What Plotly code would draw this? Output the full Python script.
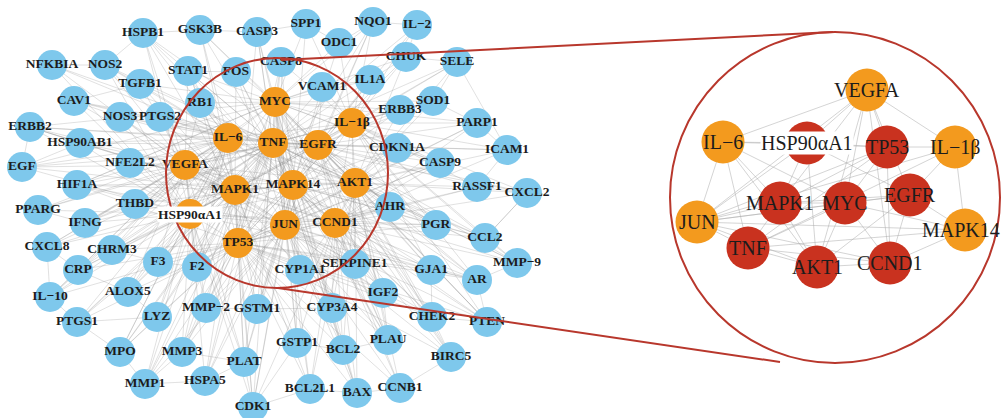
import plotly.graph_objects as go

# ---------------- Full PPI network (left) ----------------
hub_names = ["MYC", "IL-1β", "IL-6", "TNF", "EGFR", "VEGFA", "MAPK1", "MAPK14",
             "AKT1", "HSP90αA1", "JUN", "CCND1", "TP53"]
hub_x = [275, 352, 228, 273, 318, 185, 235, 293, 355, 190, 285, 335, 238]
hub_y = [102, 123, 138, 143, 145, 165, 190, 185, 183, 214, 225, 223, 243]

gene_names = ["HSPB1", "GSK3B", "CASP3", "SPP1", "NQO1", "IL-2", "ODC1", "CHUK", "SELE",
              "NFKBIA", "NOS2", "STAT1", "FOS", "CASP8", "TGFB1", "VCAM1", "IL1A", "SOD1",
              "ERBB3", "CAV1", "RB1", "NOS3", "PTGS2", "ERBB2", "HSP90AB1", "PARP1", "ICAM1",
              "CDKN1A", "CASP9", "RASSF1", "CXCL2", "EGF", "NFE2L2", "HIF1A", "THBD", "PPARG",
              "IFNG", "CXCL8", "CHRM3", "F3", "F2", "CRP", "IL-10", "ALOX5", "LYZ", "MMP-2",
              "GSTM1", "PTGS1", "MPO", "MMP3", "PLAT", "MMP1", "HSPA5", "CDK1", "GSTP1", "BCL2",
              "BCL2L1", "BAX", "CCNB1", "PLAU", "BIRC5", "CYP3A4", "IGF2", "CHEK2", "PTEN",
              "CYP1A1", "SERPINE1", "GJA1", "AR", "MMP-9", "CCL2", "PGR", "AHR"]
gene_x = [143, 200, 257, 306, 373, 417, 339, 406, 457,
          52, 105, 188, 236, 281, 140, 322, 370, 433,
          400, 74, 200, 120, 160, 30, 80, 477, 507,
          397, 440, 477, 527, 22, 130, 77, 135, 38,
          85, 47, 112, 158, 197, 78, 50, 128, 157, 206,
          257, 77, 120, 182, 244, 145, 205, 253, 297, 343,
          310, 357, 400, 388, 451, 332, 383, 432, 487,
          300, 355, 431, 477, 517, 485, 436, 390]
gene_y = [33, 30, 32, 24, 22, 25, 43, 57, 62,
          65, 65, 71, 72, 62, 84, 87, 80, 101,
          110, 101, 103, 117, 117, 127, 143, 123, 150,
          148, 163, 187, 193, 167, 163, 185, 204, 210,
          223, 247, 250, 262, 267, 270, 297, 292, 317, 308,
          309, 322, 352, 352, 362, 384, 381, 407, 343, 350,
          389, 393, 388, 340, 357, 308, 293, 317, 322,
          270, 264, 270, 280, 263, 238, 225, 207]

hub_links = {
    "MYC": ["CASP3", "SPP1", "ODC1", "CHUK", "FOS", "CASP8", "STAT1", "GSK3B", "RB1", "VCAM1",
            "IL1A", "ERBB3", "CDKN1A", "CASP9", "NFE2L2", "HIF1A", "CCNB1", "CDK1", "BCL2", "BAX",
            "BCL2L1", "PTEN", "CHEK2", "BIRC5", "NQO1", "TGFB1", "PARP1", "SOD1", "AHR", "CYP1A1",
            "GSTP1", "IGF2", "ERBB2", "EGF"],
    "TNF": ["NFKBIA", "NOS2", "STAT1", "FOS", "CASP8", "CASP3", "VCAM1", "IL1A", "ICAM1", "SELE",
            "CXCL2", "CXCL8", "CCL2", "IL-10", "IL-2", "IFNG", "CRP", "MMP-9", "MMP-2", "MMP3",
            "MMP1", "PTGS2", "PTGS1", "NOS3", "HSPB1", "SOD1", "MPO", "F3", "F2", "THBD", "PLAT",
            "PLAU", "SERPINE1", "HSPA5", "ALOX5", "LYZ", "CHRM3", "PPARG", "CAV1", "TGFB1", "BCL2",
            "BAX", "GSTM1", "CYP3A4", "AR", "PGR"],
    "IL-6": ["NFKBIA", "NOS2", "STAT1", "TGFB1", "CAV1", "ERBB2", "HSP90AB1", "EGF", "HIF1A",
             "PPARG", "IFNG", "CXCL8", "CRP", "IL-10", "PTGS1", "MPO", "MMP1", "ALOX5", "CHRM3",
             "F3", "F2", "HSPB1", "GSK3B", "NOS3", "PTGS2", "RB1", "NFE2L2", "THBD", "LYZ", "MMP3"],
    "EGFR": ["ERBB3", "ERBB2", "EGF", "CAV1", "CDKN1A", "CASP9", "RASSF1", "PARP1", "SOD1", "ICAM1",
             "CXCL2", "PGR", "AR", "GJA1", "CCL2", "MMP-9", "IGF2", "PTEN", "CHEK2", "SERPINE1",
             "AHR", "IL1A", "VCAM1", "CHUK", "SELE", "NQO1", "IL-2", "BIRC5", "PLAU", "HSP90AB1"],
    "AKT1": ["RASSF1", "CXCL2", "CASP9", "PARP1", "ICAM1", "SELE", "SOD1", "CHUK", "PTEN", "CHEK2",
             "BIRC5", "CCNB1", "BAX", "BCL2", "BCL2L1", "PLAU", "IGF2", "GJA1", "AR", "MMP-9",
             "CCL2", "PGR", "AHR", "CDKN1A", "GSK3B", "NOS3", "HSPB1", "PTGS2", "HIF1A", "CYP3A4"],
    "IL-1β": ["IL1A", "CHUK", "SELE", "ICAM1", "VCAM1", "CXCL2", "CCL2", "MMP-9", "SOD1", "PARP1",
              "NQO1", "IL-2", "ODC1", "SPP1", "CASP8", "CASP9", "RASSF1", "PGR", "AR", "GJA1",
              "ERBB3", "CDKN1A", "PTEN", "SERPINE1"],
    "VEGFA": ["NFKBIA", "NOS2", "TGFB1", "CAV1", "ERBB2", "HSP90AB1", "EGF", "HIF1A", "PPARG",
              "IFNG", "CXCL8", "CHRM3", "THBD", "NFE2L2", "NOS3", "PTGS2", "RB1", "STAT1", "HSPB1",
              "F3", "F2", "CRP", "IL-10", "ALOX5", "MMP-2", "PLAT", "SERPINE1", "MMP-9", "PLAU", "IGF2"],
    "MAPK1": ["HSPB1", "GSK3B", "STAT1", "FOS", "RB1", "TGFB1", "NOS2", "NOS3", "PTGS2", "HSP90AB1",
              "EGF", "ERBB2", "HIF1A", "IFNG", "CXCL8", "CHRM3", "CRP", "F3", "F2", "ALOX5", "LYZ",
              "MMP-2", "MMP3", "MMP1", "PTGS1", "MPO", "HSPA5", "PLAT", "CDK1", "GSTM1", "GSTP1",
              "CYP1A1", "BCL2L1"],
    "MAPK14": ["HSPB1", "GSK3B", "CASP3", "SPP1", "STAT1", "FOS", "CASP8", "ODC1", "IL1A", "VCAM1",
               "ERBB3", "CDKN1A", "NFE2L2", "THBD", "F2", "MMP-2", "GSTM1", "CYP1A1", "CYP3A4",
               "GSTP1", "SERPINE1", "IGF2", "PLAU", "BCL2", "HSPA5", "PLAT", "CDK1", "AHR", "PGR",
               "CCL2", "GJA1", "CHEK2", "PTEN"],
    "HSP90αA1": ["HSPB1", "NOS2", "NFKBIA", "CAV1", "ERBB2", "HSP90AB1", "EGF", "HIF1A", "PPARG",
                 "IFNG", "CXCL8", "CRP", "IL-10", "CHRM3", "F3", "F2", "ALOX5", "LYZ", "PTGS1",
                 "MPO", "MMP1", "MMP3", "HSPA5", "NOS3", "NFE2L2", "THBD", "AR", "PGR", "CDK1", "PLAT"],
    "JUN": ["FOS", "CASP3", "CASP8", "CASP9", "CYP1A1", "SERPINE1", "CYP3A4", "GSTM1", "GSTP1",
            "MMP-2", "MMP3", "MMP1", "F2", "PLAU", "PLAT", "BCL2", "BCL2L1", "BAX", "CCNB1", "CDK1",
            "HSPA5", "IGF2", "CHEK2", "PTEN", "BIRC5", "AHR", "GJA1", "AR", "NQO1", "NFE2L2", "HIF1A"],
    "CCND1": ["CDKN1A", "CASP9", "RASSF1", "CXCL2", "PARP1", "ICAM1", "AHR", "PGR", "CCL2", "MMP-9",
              "AR", "GJA1", "PTEN", "CHEK2", "BIRC5", "PLAU", "IGF2", "CCNB1", "BAX", "BCL2",
              "BCL2L1", "CDK1", "CYP3A4", "SERPINE1", "CYP1A1", "ERBB3", "RB1", "ERBB2", "GSTP1"],
    "TP53": ["CDKN1A", "CASP9", "CASP3", "CASP8", "PARP1", "BAX", "BCL2", "BCL2L1", "CCNB1", "CDK1",
             "CHEK2", "PTEN", "BIRC5", "MMP-2", "MMP3", "MMP1", "F2", "F3", "LYZ", "ALOX5", "CHRM3",
             "CRP", "IL-10", "PTGS1", "MPO", "HSPA5", "PLAT", "GSTM1", "GSTP1", "CYP1A1", "CYP3A4",
             "IGF2", "SERPINE1", "GJA1", "AR", "PGR", "AHR", "RB1", "NQO1", "HIF1A", "RASSF1"],
}

gene_links = [
    ("NFKBIA", "NOS2"), ("NOS2", "TGFB1"), ("CAV1", "NOS3"), ("EGF", "HSP90AB1"), ("EGF", "ERBB2"),
    ("ERBB2", "HSP90AB1"), ("PPARG", "IFNG"), ("CXCL8", "CRP"), ("CRP", "IL-10"), ("IL-10", "PTGS1"),
    ("PTGS1", "MPO"), ("MPO", "MMP1"), ("MMP1", "HSPA5"), ("MMP3", "MMP1"), ("MMP3", "MMP-2"),
    ("LYZ", "MPO"), ("PLAT", "CDK1"), ("CDK1", "BCL2L1"), ("BCL2L1", "BAX"), ("BAX", "CCNB1"),
    ("CCNB1", "BIRC5"), ("BIRC5", "CHEK2"), ("CHEK2", "PTEN"), ("PTEN", "AR"), ("AR", "MMP-9"),
    ("MMP-9", "CCL2"), ("CCL2", "CXCL2"), ("CXCL2", "RASSF1"), ("RASSF1", "ICAM1"), ("ICAM1", "PARP1"),
    ("PARP1", "SOD1"), ("SOD1", "SELE"), ("SELE", "CHUK"), ("CHUK", "IL-2"), ("IL-2", "NQO1"),
    ("NQO1", "ODC1"), ("ODC1", "SPP1"), ("SPP1", "CASP3"), ("CASP3", "GSK3B"), ("GSK3B", "HSPB1"),
    ("HSPB1", "NOS2"), ("ALOX5", "LYZ"), ("ALOX5", "CRP"), ("CHRM3", "F3"), ("F3", "F2"),
    ("F2", "MMP-2"), ("MMP-2", "GSTM1"), ("GSTM1", "CYP3A4"), ("GSTP1", "BCL2"), ("BCL2", "PLAU"),
    ("PLAU", "IGF2"), ("IGF2", "CHEK2"), ("GJA1", "AR"), ("PGR", "CCL2"), ("AHR", "PGR"),
    ("CDKN1A", "CASP9"), ("ERBB3", "SOD1"), ("VCAM1", "IL1A"), ("IL1A", "CHUK"), ("STAT1", "FOS"),
    ("TGFB1", "CAV1"), ("HIF1A", "NFE2L2"), ("THBD", "IFNG"), ("CXCL8", "IL-10"), ("PTGS1", "LYZ"),
    ("MMP3", "PLAT"), ("HSPA5", "PLAT"), ("GSTP1", "CDK1"), ("BAX", "BCL2"), ("CYP1A1", "CYP3A4"),
    ("SERPINE1", "PLAU"), ("GJA1", "CHEK2"), ("CXCL2", "CCL2"), ("ICAM1", "SELE"), ("RB1", "STAT1"),
]

# ---------------- Core module (right) ----------------
core_names = ["VEGFA", "IL-6", "HSP90αA1", "TP53", "IL-1β", "MAPK1", "MYC", "EGFR",
              "JUN", "MAPK14", "TNF", "AKT1", "CCND1"]
core_x = [867, 723, 807, 887, 955, 780, 845, 910, 697, 965, 748, 817, 890]
core_y = [90, 142, 143, 147, 147, 203, 203, 195, 222, 230, 248, 267, 263]
core_rank = ["mid", "mid", "top", "top", "mid", "top", "top", "top",
             "mid", "mid", "top", "top", "top"]

core_links = [
    ("VEGFA", "IL-6"), ("VEGFA", "HSP90αA1"), ("VEGFA", "TP53"), ("VEGFA", "MYC"), ("VEGFA", "MAPK1"),
    ("VEGFA", "EGFR"), ("VEGFA", "AKT1"), ("VEGFA", "JUN"), ("VEGFA", "IL-1β"), ("VEGFA", "CCND1"),
    ("IL-6", "HSP90αA1"), ("IL-6", "JUN"), ("IL-6", "TNF"), ("IL-6", "MYC"), ("IL-6", "AKT1"),
    ("IL-6", "TP53"), ("IL-6", "MAPK1"), ("HSP90αA1", "TP53"), ("HSP90αA1", "EGFR"),
    ("HSP90αA1", "AKT1"), ("HSP90αA1", "MAPK1"), ("HSP90αA1", "JUN"), ("TP53", "IL-1β"),
    ("TP53", "MYC"), ("TP53", "MAPK1"), ("TP53", "JUN"), ("TP53", "CCND1"), ("TP53", "TNF"),
    ("IL-1β", "MAPK14"), ("IL-1β", "EGFR"), ("IL-1β", "TNF"), ("IL-1β", "JUN"),
    ("MAPK1", "MYC"), ("MAPK1", "JUN"), ("MAPK1", "TNF"), ("MAPK1", "AKT1"), ("MAPK1", "EGFR"),
    ("MYC", "EGFR"), ("MYC", "JUN"), ("MYC", "CCND1"), ("MYC", "AKT1"), ("MYC", "TNF"),
    ("EGFR", "MAPK14"), ("EGFR", "CCND1"), ("EGFR", "JUN"), ("EGFR", "AKT1"),
    ("JUN", "TNF"), ("JUN", "AKT1"), ("JUN", "CCND1"), ("JUN", "MAPK14"),
    ("MAPK14", "CCND1"), ("MAPK14", "TNF"), ("MAPK14", "MYC"),
    ("TNF", "AKT1"), ("TNF", "CCND1"), ("AKT1", "CCND1"),
]

# labels drawn on an opaque white box
boxed_labels = ["HSP90αA1"]

BLUE = "#7EC8EC"
ORANGE = "#F39A1E"
RED = "#C9321F"
FRAME = "#B8372C"
EDGE = "rgba(140,140,140,0.38)"
TEXT = "#1c1c1c"
SERIF = "Liberation Serif"
CORE_FONT = 20


def shown(name):
    return name.replace("-", "−")


pos = {n: (x, y) for n, x, y in zip(gene_names, gene_x, gene_y)}
pos.update({n: (x, y) for n, x, y in zip(hub_names, hub_x, hub_y)})

pairs = []
for h in hub_names:
    for g in hub_links[h]:
        pairs.append((h, g))
for i, a in enumerate(hub_names):
    for b in hub_names[i + 1:]:
        pairs.append((a, b))
pairs += gene_links

ex, ey = [], []
for a, b in pairs:
    ex += [pos[a][0], pos[b][0], None]
    ey += [pos[a][1], pos[b][1], None]

cpos = {n: (x, y) for n, x, y in zip(core_names, core_x, core_y)}
cx, cy = [], []
for a, b in core_links:
    cx += [cpos[a][0], cpos[b][0], None]
    cy += [cpos[a][1], cpos[b][1], None]

fig = go.Figure()

fig.add_trace(go.Scatter(x=ex, y=ey, mode="lines", line=dict(color=EDGE, width=0.7),
                         hoverinfo="skip", showlegend=False))
fig.add_trace(go.Scatter(x=cx, y=cy, mode="lines", line=dict(color="rgba(175,175,175,0.6)", width=0.9),
                         hoverinfo="skip", showlegend=False))

fig.add_trace(go.Scatter(x=gene_x, y=gene_y, mode="markers",
                         marker=dict(size=30, color=BLUE, line=dict(width=0)),
                         hoverinfo="skip", showlegend=False))
fig.add_trace(go.Scatter(x=hub_x, y=hub_y, mode="markers",
                         marker=dict(size=30, color=ORANGE, line=dict(width=0)),
                         hoverinfo="skip", showlegend=False))
fig.add_trace(go.Scatter(x=core_x, y=core_y, mode="markers",
                         marker=dict(size=43, color=[RED if r == "top" else ORANGE for r in core_rank],
                                     line=dict(width=0)),
                         hoverinfo="skip", showlegend=False))

# node labels
left_names = gene_names + hub_names
left_x = gene_x + hub_x
left_y = gene_y + hub_y
plain = [i for i, n in enumerate(left_names) if n not in boxed_labels]
fig.add_trace(go.Scatter(x=[left_x[i] for i in plain], y=[left_y[i] for i in plain], mode="text",
                         text=["<b>" + shown(left_names[i]) + "</b>" for i in plain],
                         textposition="middle center",
                         textfont=dict(family=SERIF, size=13.5, color=TEXT),
                         hoverinfo="skip", showlegend=False))

annotations = []
for i, n in enumerate(left_names):
    if n in boxed_labels:
        annotations.append(dict(x=left_x[i], y=left_y[i], xref="x", yref="y",
                                text="<b>" + shown(n) + "</b>", showarrow=False,
                                xanchor="center", yanchor="middle", bgcolor="white", borderpad=0,
                                font=dict(family=SERIF, size=13.5, color=TEXT)))

# core labels; the one at the right rim is anchored by its right end so it stays on the page
for i, n in enumerate(core_names):
    boxed = n in boxed_labels
    at_rim = core_x[i] + 40 > 1001
    annotations.append(dict(x=1001 if at_rim else core_x[i], y=core_y[i], xref="x", yref="y",
                            text=shown(n), showarrow=False,
                            xanchor="right" if at_rim else "center", yanchor="middle",
                            bgcolor="white" if boxed else "rgba(0,0,0,0)", borderpad=0,
                            font=dict(family=SERIF, size=CORE_FONT, color=TEXT)))

# zoom frame: circle around the core, magnified circle, and the two connecting lines
shapes = [
    dict(type="circle", xref="x", yref="y", x0=166, x1=388, y0=58, y1=288,
         line=dict(color=FRAME, width=2), layer="above"),
    dict(type="circle", xref="x", yref="y", x0=670, x1=1000, y0=32, y1=363,
         line=dict(color=FRAME, width=2), layer="above"),
    dict(type="line", xref="x", yref="y", x0=281, y0=60, x1=833, y1=32,
         line=dict(color=FRAME, width=2), layer="above"),
    dict(type="line", xref="x", yref="y", x0=278, y0=288, x1=780, y1=362,
         line=dict(color=FRAME, width=2), layer="above"),
]

fig.update_layout(
    width=1001, height=418,
    margin=dict(l=0, r=0, t=0, b=0),
    paper_bgcolor="white", plot_bgcolor="white",
    shapes=shapes, annotations=annotations,
    xaxis=dict(range=[0, 1001], visible=False, fixedrange=True),
    yaxis=dict(range=[418, 0], visible=False, fixedrange=True),
)

fig.write_html("out.html")
